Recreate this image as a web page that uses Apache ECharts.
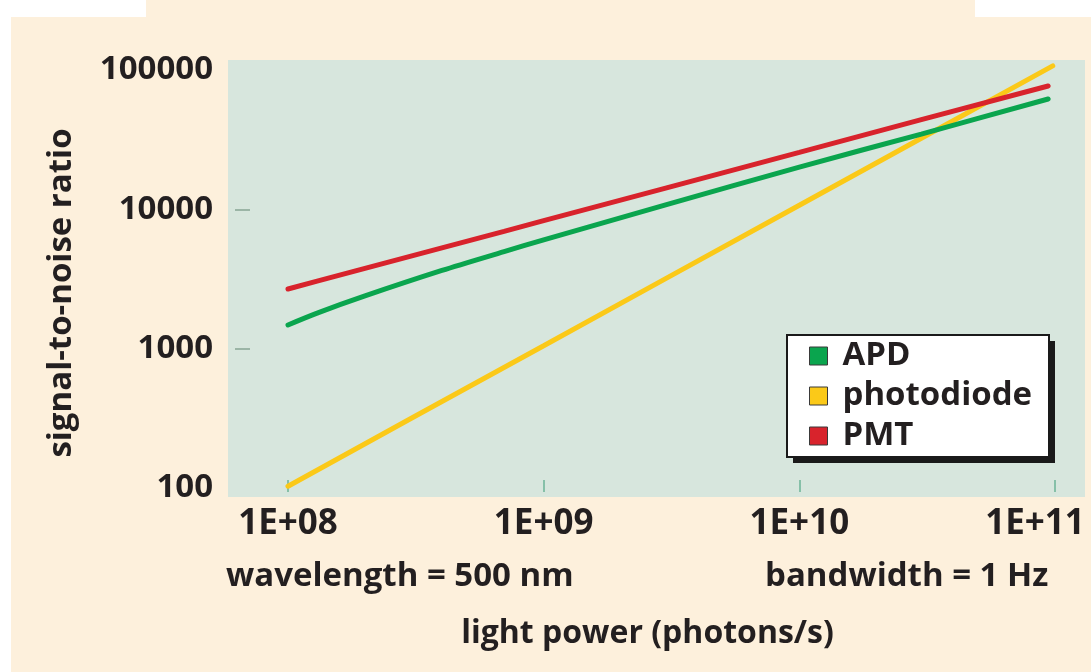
<!DOCTYPE html>
<html>
<head>
<meta charset="utf-8">
<script src="https://cdn.jsdelivr.net/npm/echarts@6/dist/echarts.min.js"></script>
<style>
html,body{margin:0;padding:0;background:#fdf0dc;}
#c{width:1091px;height:672px;}
</style>
</head>
<body>
<div id="c"></div>
<script>
// light power (photons/s) sample points
const powerX = [1e8, 1.3e8, 2e8, 4e8, 7e8, 1e9, 3e9, 1e10, 3e10, 9.4e10];
const apd = [1480, 1800, 2390, 3640, 4970, 6040, 10760, 20100, 34700, 61900];
const pmt = [2680, 3050, 3770, 5290, 6950, 8300, 14200, 25600, 44000, 76800];
const photodiodeX = [1e8, 3e8, 1e9, 3e9, 1e10, 3e10, 9.8e10];
const photodiode = [103, 313, 1050, 3180, 10700, 32400, 107000];
const seriesNames = ['APD', 'photodiode', 'PMT'];
const yTicks = [100, 1000, 10000, 100000];
const xTicks = ['1E+08', '1E+09', '1E+10', '1E+11'];
const noteLeft = 'wavelength = 500 nm';
const noteRight = 'bandwidth = 1 Hz';
const xTitle = 'light power (photons/s)';
const yTitle = 'signal-to-noise ratio';

const FONT = 'Open Sans';
const TXT = '#231f20';
const zip = (xs, ys) => xs.map((x, i) => [x, ys[i]]);

const chart = echarts.init(document.getElementById('c'), null, {renderer: 'canvas'});
chart.setOption({
  backgroundColor: '#fdf0dc',
  animation: false,
  graphic: [
    {type: 'rect', shape: {x: 0, y: 0, width: 11, height: 672}, style: {fill: '#ffffff'}, z: -10},
    {type: 'rect', shape: {x: 0, y: 0, width: 146, height: 17}, style: {fill: '#ffffff'}, z: -10},
    {type: 'rect', shape: {x: 975, y: 0, width: 116, height: 17}, style: {fill: '#ffffff'}, z: -10},
    {type: 'rect', shape: {x: 228, y: 60, width: 857, height: 437}, style: {fill: '#d7e6dd'}, z: -5},
    {type: 'rect', shape: {x: 793, y: 341, width: 262, height: 122}, style: {fill: '#1a1a1a'}, z: 20},
    {type: 'rect', shape: {x: 787, y: 335, width: 262, height: 122}, style: {fill: '#ffffff', stroke: '#1a1a1a', lineWidth: 2}, z: 21},
    {type: 'text', left: 226, top: 560, style: {text: noteLeft, font: 'bold 33px "' + FONT + '"', fill: TXT}},
    {type: 'text', left: 765, top: 560, style: {text: noteRight, font: 'bold 33px "' + FONT + '"', fill: TXT}}
  ],
  grid: {left: 288, right: 36, top: 70, bottom: 184, containLabel: false},
  legend: {
    orient: 'vertical',
    left: 809, top: 339,
    data: seriesNames,
    icon: 'rect',
    itemWidth: 18, itemHeight: 18,
    itemGap: 6,
    padding: 0,
    z: 30,
    itemStyle: {borderColor: '#3a3a3a', borderWidth: 1},
    textStyle: {fontFamily: FONT, fontWeight: 'bold', fontSize: 33, color: TXT, padding: [0, 0, 0, 10], lineHeight: 34}
  },
  xAxis: {
    type: 'log', logBase: 10, min: 1e8, max: 1e11,
    offset: 4,
    name: xTitle,
    nameLocation: 'middle',
    nameGap: 126,
    nameTextStyle: {fontFamily: FONT, fontWeight: 'bold', fontSize: 32, color: TXT, padding: [0, 48, 0, 0]},
    axisLine: {show: false},
    axisTick: {show: true, inside: true, length: 12, lineStyle: {color: '#86c0a8', width: 2}},
    axisLabel: {
      margin: 15,
      fontFamily: FONT, fontWeight: 'bold', fontSize: 35, color: TXT,
      formatter: function (v) {
        const e = Math.round(Math.log10(v));
        const s = xTicks[e - 8];
        return e === 11 ? '{r|' + s + '}' : s;
      },
      rich: {r: {fontFamily: FONT, fontWeight: 'bold', fontSize: 35, color: TXT, padding: [0, 40, 0, 0]}}
    },
    splitLine: {show: false}
  },
  yAxis: {
    type: 'log', logBase: 10, min: yTicks[0], max: yTicks[yTicks.length - 1],
    offset: 38,
    name: yTitle,
    nameLocation: 'middle',
    nameRotate: 90,
    nameGap: 172,
    nameTextStyle: {fontFamily: FONT, fontWeight: 'bold', fontSize: 33, color: TXT, padding: [0, 28, 0, 0]},
    axisLine: {show: false},
    axisTick: {show: true, length: 15, lineStyle: {color: '#9bb5a6', width: 2}, customValues: [1000, 10000]},
    axisLabel: {margin: 37, fontFamily: FONT, fontWeight: 'bold', fontSize: 33, color: TXT, customValues: yTicks,
      formatter: function (v) { return String(Math.round(v)); }},
    splitLine: {show: false}
  },
  series: [
    {name: seriesNames[0], type: 'line', data: zip(powerX, apd), smooth: 0.3, showSymbol: false, clip: false,
      lineStyle: {width: 5, color: '#0aa54e', cap: 'round'}, itemStyle: {color: '#0aa54e'}, z: 3},
    {name: seriesNames[1], type: 'line', data: zip(photodiodeX, photodiode), showSymbol: false, clip: false,
      lineStyle: {width: 5, color: '#fbc918', cap: 'round'}, itemStyle: {color: '#fbc918'}, z: 2},
    {name: seriesNames[2], type: 'line', data: zip(powerX, pmt), showSymbol: false, clip: false,
      lineStyle: {width: 5, color: '#d8232c', cap: 'round'}, itemStyle: {color: '#d8232c'}, z: 4}
  ]
});
</script>
</body>
</html>
